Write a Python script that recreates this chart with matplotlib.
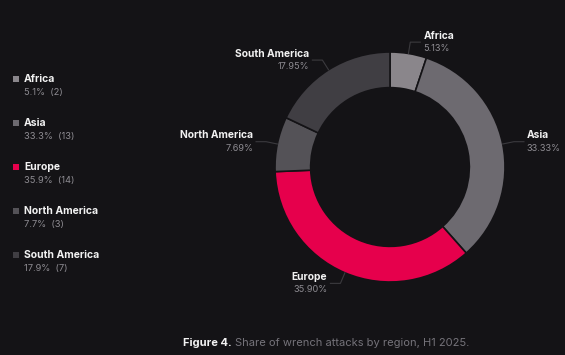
import numpy as np
import matplotlib.pyplot as plt

regions = ["Africa", "Asia", "Europe", "North America", "South America"]
counts = [2, 13, 14, 3, 7]
colors = ["#8a868b", "#6d6a70", "#e6004c", "#545257", "#403e43"]
legend_colors = ["#8a868b", "#6d6a70", "#e6004c", "#545257", "#403e43"]

bg = "#141316"
W, H = 565, 355

plt.rcParams['font.family'] = ['Inter', 'DejaVu Sans']

fig = plt.figure(figsize=[W / 100, H / 100], dpi=100, facecolor=bg)

def px(x, y):
    return x / W, 1 - y / H

# donut
cx, cy, R = 390, 167, 115
ax = fig.add_axes([(cx - R) / W, 1 - (cy + R) / H, 2 * R / W, 2 * R / H])
ax.set_facecolor(bg)
total = sum(counts)
ax.pie(counts, colors=colors, startangle=90, counterclock=False,
       radius=1.0, wedgeprops=dict(width=0.31, edgecolor=bg, linewidth=1.2))
ax.set_xlim(-1, 1)
ax.set_ylim(-1, 1)
ax.set_aspect('equal')
ax.axis('off')

# leader lines + labels, in figure pixels
overlay = fig.add_axes([0, 0, 1, 1], facecolor='none')
overlay.set_xlim(0, W)
overlay.set_ylim(H, 0)
overlay.axis('off')

cum = 0
for name, c in zip(regions, counts):
    share = c / total * 100
    mid = np.deg2rad(90 - (cum + share / 2) * 3.6)
    cum += share
    x0, y0 = cx + R * np.cos(mid), cy - R * np.sin(mid)
    x1, y1 = cx + 1.1 * R * np.cos(mid), cy - 1.1 * R * np.sin(mid)
    side = 1 if np.cos(mid) > 0.05 else -1
    x2 = x1 + 10 * side
    overlay.plot([x0, x1, x2], [y0, y1, y1], color="#3b3a3e", lw=0.8)
    ha = 'left' if side > 0 else 'right'
    tx = x2 + 3 * side
    overlay.text(tx, y1 - 6.5, name, ha=ha, va='center', color="#f2f2f2",
                 fontsize=7.4, fontweight='bold')
    overlay.text(tx, y1 + 6.5, f"{share:.2f}%", ha=ha, va='center',
                 color="#8e8c92", fontsize=6.6)

# legend
for i, (name, c, col) in enumerate(zip(regions, counts, legend_colors)):
    y = 79 + 44 * i
    overlay.scatter([15.5], [y], marker='s', s=14, color=col, linewidths=0)
    overlay.text(24, y, name, ha='left', va='center', color="#f2f2f2",
                 fontsize=7.5, fontweight='bold')
    overlay.text(24, y + 14, f"{c / total * 100:.1f}%  ({c})", ha='left',
                 va='center', color="#8e8c92", fontsize=6.7)

# caption
t1 = fig.text(*px(183, 343), "Figure 4.", ha='left', va='center',
              color="#f2f2f2", fontsize=8, fontweight='bold')
fig.canvas.draw()
bb = t1.get_window_extent()
fig.text((bb.x1 + 3) / W, 1 - 343 / H, "Share of wrench attacks by region, H1 2025.",
         ha='left', va='center', color="#75737a", fontsize=8)

fig.savefig("out.png", dpi=100, facecolor=bg)
